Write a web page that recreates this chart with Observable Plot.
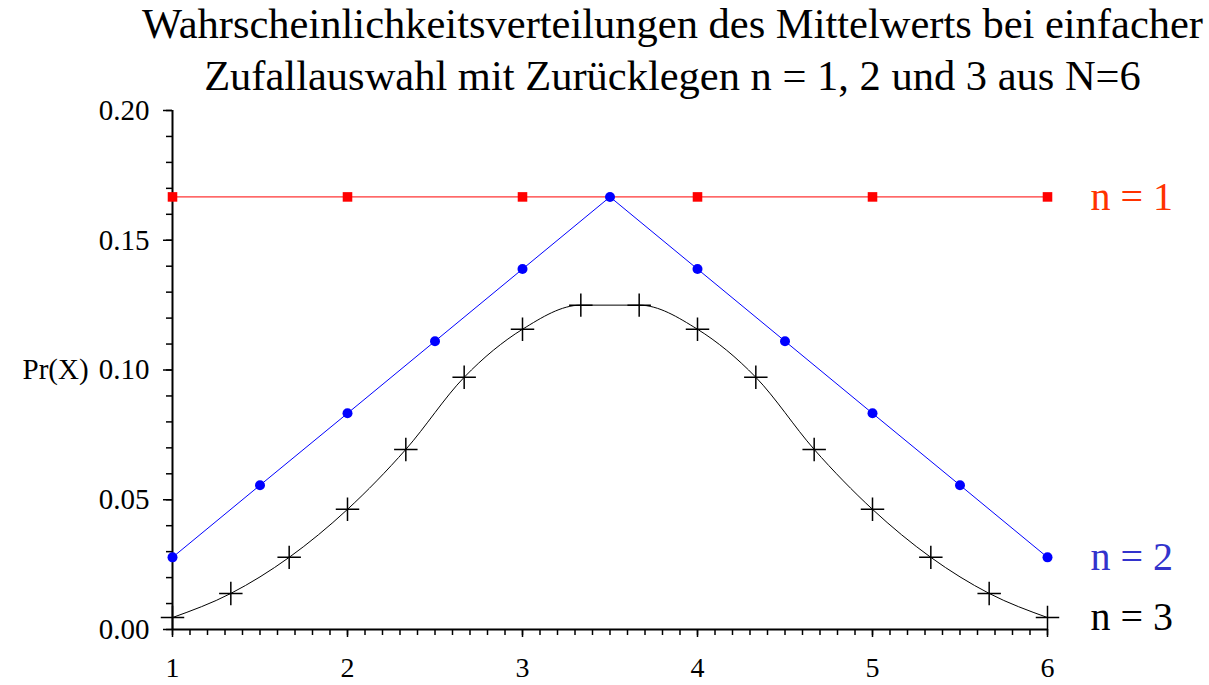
<!DOCTYPE html>
<html>
<head>
<meta charset="utf-8">
<script src="https://cdn.jsdelivr.net/npm/d3@7"></script>
<script src="https://cdn.jsdelivr.net/npm/@observablehq/plot@0.6"></script>
<style>
  html, body { margin: 0; padding: 0; background: #fff; }
  #title { width: 1209px; height: 102px; margin-top: -2px; font-family: "Liberation Serif", serif; font-size: 42.5px; line-height: 52px; text-align: center; color: #000; padding-left: 136px; box-sizing: border-box; white-space: nowrap; }
  svg { overflow: visible; }
</style>
</head>
<body>
<div id="title">Wahrscheinlichkeitsverteilungen des Mittelwerts bei einfacher<br>Zufallauswahl mit Zurücklegen n = 1, 2 und 3 aus N=6</div>
<div id="chart"></div>
<script>
// n = 1
const x1 = [1, 2, 3, 4, 5, 6];
const p1 = [0.1667, 0.1667, 0.1667, 0.1667, 0.1667, 0.1667];
// n = 2
const x2 = [1, 1.5, 2, 2.5, 3, 3.5, 4, 4.5, 5, 5.5, 6];
const p2 = [0.0278, 0.0556, 0.0833, 0.1111, 0.1389, 0.1667, 0.1389, 0.1111, 0.0833, 0.0556, 0.0278];
// n = 3
const x3 = [1, 1.3333, 1.6667, 2, 2.3333, 2.6667, 3, 3.3333, 3.6667, 4, 4.3333, 4.6667, 5, 5.3333, 5.6667, 6];
const p3 = [0.0046, 0.0139, 0.0278, 0.0463, 0.0694, 0.0972, 0.1157, 0.1250, 0.1250, 0.1157, 0.0972, 0.0694, 0.0463, 0.0278, 0.0139, 0.0046];

const xTicks = [1, 2, 3, 4, 5, 6];
const yTicks = [0, 0.05, 0.10, 0.15, 0.20];
const seriesLabels = ["n = 1", "n = 2", "n = 3"];
const labelColors = ["#ff3300", "#3333cc", "#000000"];

const d1 = x1.map((x, i) => ({x, p: p1[i]}));
const d2 = x2.map((x, i) => ({x, p: p2[i]}));
const d3s = x3.map((x, i) => ({x, p: p3[i]}));
const labels = [
  {x: x1[x1.length - 1], p: p1[p1.length - 1], t: seriesLabels[0], c: labelColors[0]},
  {x: x2[x2.length - 1], p: p2[p2.length - 1], t: seriesLabels[1], c: labelColors[1]},
  {x: x3[x3.length - 1], p: p3[p3.length - 1], t: seriesLabels[2], c: labelColors[2]}
];

const chart = Plot.plot({
  width: 1209,
  height: 585,
  marginTop: 10,
  marginBottom: 56,
  marginLeft: 172,
  marginRight: 162,
  style: {fontFamily: "'Liberation Serif', serif", background: "#fff", color: "#000"},
  x: {domain: [1, 6]},
  y: {domain: [0, 0.2]},
  marks: [
    Plot.axisY({ticks: yTicks, tickSize: 9, tickPadding: 14, tickFormat: d3.format(".2f"), fontSize: 29, label: null, strokeWidth: 1.5}),
    Plot.axisY({interval: 0.01, tickSize: 6, tickFormat: () => "", label: null, strokeWidth: 1.5}),
    Plot.axisX({ticks: xTicks, tickSize: 8, tickPadding: 20, tickFormat: d3.format("d"), fontSize: 28, label: null, strokeWidth: 1.5}),
    Plot.axisX({interval: 0.1, tickSize: 6, tickFormat: () => "", label: null, strokeWidth: 1.5}),
    Plot.ruleX([1], {y1: 0, y2: 0.2, strokeWidth: 2}),
    Plot.ruleY([0], {x1: 1, x2: 6, strokeWidth: 2}),
    Plot.text(["Pr(X)"], {frameAnchor: "left", dx: -150, textAnchor: "start", fontSize: 29}),
    Plot.line(d1, {x: "x", y: "p", stroke: "#ff0000", strokeWidth: 1}),
    Plot.line(d2, {x: "x", y: "p", stroke: "#0000ff", strokeWidth: 1}),
    Plot.line(d3s, {x: "x", y: "p", stroke: "#000000", strokeWidth: 1, curve: "monotone-x"}),
    Plot.dot(d1, {x: "x", y: "p", symbol: "square", r: 5.4, fill: "#ff0000"}),
    Plot.dot(d2, {x: "x", y: "p", symbol: "circle", r: 5, fill: "#0000ff"}),
    Plot.dot(d3s, {x: "x", y: "p", symbol: "plus", r: 7.6, stroke: "#000000", strokeWidth: 1.5}),
    Plot.text(labels, {x: "x", y: "p", text: "t", fill: "c", dx: 43, textAnchor: "start", lineAnchor: "middle", fontSize: 40})
  ]
});
document.getElementById("chart").appendChild(chart);
</script>
</body>
</html>
